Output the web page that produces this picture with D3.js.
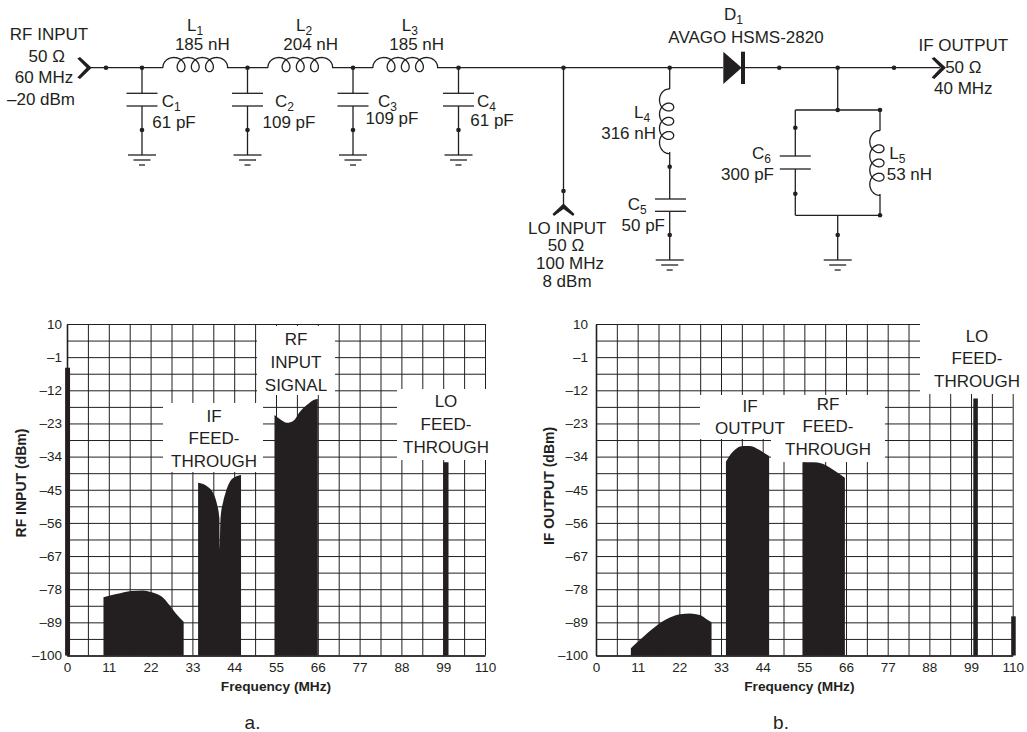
<!DOCTYPE html>
<html>
<head>
<meta charset="utf-8">
<script src="https://cdn.jsdelivr.net/npm/d3@7"></script>
<style>
    html, body { margin: 0; background: #fff; }
    svg { display: block; }
    text { font-family: "Liberation Sans", Arial, sans-serif; fill: #231f20; }
</style>
</head>
<body>
<div id="chart"></div>
<script>
// Axis values
const freqTicks = [0, 11, 22, 33, 44, 55, 66, 77, 88, 99, 110];
const dbTicks = [10, -1, -12, -23, -34, -45, -56, -67, -78, -89, -100];
const dbTickLabels = ["10", "–1", "–12", "–23", "–34", "–45", "–56", "–67", "–78", "–89", "–100"];

// Panel a spectrum as [MHz, dBm]
const rfBandLow = [[9.6, -80.7], [13, -79.6], [17, -78.6], [20, -78.4], [22, -78.9], [25, -80.5], [27, -83.3], [29, -86.6], [30.7, -88.8]];
const rfBandIf = [[34.5, -42.7], [35.8, -43.1], [37.1, -44.1], [38.5, -46.2], [39.5, -50], [40.1, -54.4], [40.2, -65], [40.4, -54.4], [41.1, -49], [41.8, -45.7], [42.9, -42.3], [44.2, -40.8], [45.8, -40.1]];
const rfBandRf = [[54.6, -20.2], [56.1, -21.6], [57.9, -22.8], [59.6, -22.1], [61.3, -19.1], [63.1, -16.9], [64.9, -15.2], [66, -14.9]];
const rfSpikeDc = [[-0.5, -4.5], [0.8, -4.5]];
const rfSpikeLo = [[99, -35.9], [100.4, -35.9]];

// Panel b spectrum
const ifBandLow = [[9.2, -97.6], [10.3, -96.3], [12.5, -93.8], [14.7, -91.4], [16.9, -89.2], [19.5, -87.4], [22.2, -86.3], [24.8, -86.1], [27.4, -86.6], [29.2, -88], [30.5, -89]];
const ifBandIf = [[34.3, -35.7], [35.4, -33.5], [37.1, -31.3], [38.9, -30.5], [40.6, -30.5], [42.4, -31.3], [44.2, -32.6], [45.7, -33.8]];
const ifBandRf = [[54.5, -35.9], [57.4, -35.9], [59.6, -36.3], [61.8, -37.7], [63.6, -39.2], [65.7, -41]];
const ifSpikeLo = [[99.6, -14.7], [100.8, -14.7]];
const ifSpikeEnd = [[109.6, -87], [110.8, -87]];

const svg = d3.select("#chart").append("svg").attr("width", 1027).attr("height", 732);
const ink = "#231f20";
const bigFont = 17;

function drawPlot(cfg) {
    const x = d3.scaleLinear().domain([0, 110]).range([cfg.left, cfg.right]);
    const y = d3.scaleLinear().domain([10, -100]).range([324, 655.5]);
    const g = svg.append("g");

    // gridlines every half tick, labels only on the full ticks
    const fineFreq = d3.range(0, 21).map(i => i * 5.5);
    const fineDb = d3.range(0, 21).map(i => 10 - i * 5.5);

    const xAxis = d3.axisBottom(x).tickValues(fineFreq).tickSize(0)
        .tickFormat(d => freqTicks.includes(d) ? d : "");
    const yAxis = d3.axisLeft(y).tickValues(fineDb).tickSize(0)
        .tickFormat(d => {
            const i = dbTicks.indexOf(d);
            return i >= 0 ? dbTickLabels[i] : "";
        });

    const ax = g.append("g").attr("transform", "translate(0,655.5)").call(xAxis);
    ax.selectAll("line").attr("y2", 0).attr("y1", y(10) - 655.5);
    ax.selectAll("text").attr("y", 7).attr("font-size", 13.5);
    const ay = g.append("g").attr("transform", `translate(${cfg.left},0)`).call(yAxis);
    ay.selectAll("line").attr("x2", cfg.right - cfg.left);
    ay.selectAll("text").attr("x", -cfg.tickPad).attr("font-size", 13.5);
    g.selectAll(".tick line").attr("stroke", ink).attr("stroke-width", 1);
    g.selectAll(".domain").attr("stroke", ink).attr("stroke-width", 1.6);
    g.selectAll(".tick text").style("fill", ink);

    // white label patches cut the grid
    g.selectAll(".patch").data(cfg.patches).enter().append("rect")
        .attr("x", d => d[0]).attr("y", d => d[1])
        .attr("width", d => d[2]).attr("height", d => d[3])
        .attr("fill", "#fff");

    const area = d3.area().x(d => x(d[0])).y0(y(-100)).y1(d => y(d[1])).curve(d3.curveMonotoneX);
    g.selectAll(".band").data(cfg.bands).enter().append("path")
        .attr("d", area).attr("fill", ink);

    cfg.notes.forEach(n => {
        n.lines.forEach((t, i) => {
            g.append("text").attr("x", n.x).attr("y", n.ys[i])
                .attr("text-anchor", "middle").attr("font-size", bigFont).text(t);
        });
    });

    g.append("text").attr("x", (cfg.left + cfg.right) / 2 + cfg.freqShift).attr("y", 691)
        .attr("text-anchor", "middle").attr("font-size", 13.7).attr("font-weight", "bold")
        .text("Frequency (MHz)");
    g.append("text").attr("transform", `translate(${cfg.titleX},${cfg.titleY}) rotate(-90)`)
        .attr("text-anchor", "middle").attr("font-size", 14).attr("font-weight", "bold")
        .text(cfg.title);
    g.append("text").attr("x", cfg.capX).attr("y", 728.7)
        .attr("text-anchor", "middle").attr("font-size", 19).text(cfg.cap);
}

drawPlot({
    left: 67, right: 485, tickPad: 5, freqShift: 0, title: "RF INPUT (dBm)", titleX: 26, titleY: 483, cap: "a.", capX: 252.5,
    bands: [rfBandLow, rfBandIf, rfBandRf, rfSpikeDc, rfSpikeLo],
    patches: [[257, 326, 78, 69], [163, 403, 100, 69], [397, 389, 90, 71]],
    notes: [
        { x: 296, lines: ["RF", "INPUT", "SIGNAL"], ys: [345, 368, 391] },
        { x: 214, lines: ["IF", "FEED-", "THROUGH"], ys: [422, 444, 467] },
        { x: 446, lines: ["LO", "FEED-", "THROUGH"], ys: [407, 430, 453] }
    ]
});

drawPlot({
    left: 596, right: 1012.7, tickPad: 8, freqShift: -5, title: "IF OUTPUT (dBm)", titleX: 554, titleY: 486, cap: "b.", capX: 781,
    bands: [ifBandLow, ifBandIf, ifBandRf, ifSpikeLo, ifSpikeEnd],
    patches: [[700, 395, 71, 44], [771, 395, 114, 67], [920, 320, 107, 74]],
    notes: [
        { x: 750, lines: ["IF", "OUTPUT"], ys: [412, 434] },
        { x: 828, lines: ["RF", "FEED-", "THROUGH"], ys: [410, 432, 455] },
        { x: 977, lines: ["LO", "FEED-", "THROUGH"], ys: [342, 364, 387] }
    ]
});

// Schematic ---------------------------------------------------------
const wireY = 67.7;
const sch = svg.append("g");

const wires = [
    [[88, wireY], [163, wireY]], [[227, wireY], [268, wireY]], [[332, wireY], [373, wireY]],
    [[437, wireY], [723, wireY]], [[745, wireY], [940, wireY]],
    [[563.5, wireY], [563.5, 205]],
    [[669.7, wireY], [669.7, 89]], [[669.7, 152], [669.7, 199]], [[669.7, 211.3], [669.7, 260]],
    [[837.7, wireY], [837.7, 110]], [[795.3, 110], [880, 110]],
    [[795.3, 110], [795.3, 156]], [[795.3, 169], [795.3, 215.3]], [[795.3, 215.3], [880, 215.3]],
    [[880, 110], [880, 130.7]], [[880, 194], [880, 215.3]], [[837.7, 215.3], [837.7, 260]]
];
const shuntCaps = [142, 247.5, 353, 458.5];
const dots = [
    [106, wireY], [563.5, wireY], [669.7, wireY], [779.3, wireY], [837.7, wireY], [894, wireY],
    [563.5, 191], [669.7, 166.7], [669.7, 235], [837.7, 110], [880, 110], [795.3, 127.7],
    [795.3, 193.7], [880, 215.3], [837.7, 235]
];
const horizCoils = [163, 268, 373];
const vertCoils = [[669.7, 89], [880, 130.7]];
const grounds = [[669.7, 260], [837.7, 260]];
const capPlates = [[670.5, 199, 211.3], [795.3, 156, 169]];

const lineGen = d3.line();
const drawWire = pts => sch.append("path").attr("d", lineGen(pts))
    .attr("fill", "none").attr("stroke", ink).attr("stroke-width", 1.3);
const drawDot = p => sch.append("circle").attr("cx", p[0]).attr("cy", p[1]).attr("r", 2.3).attr("fill", ink);

// coil with four humps and three loops, u runs along the wire, v across it
function coilPoints(map) {
    const c = 2.26, r = 7.1, R = 7.1;
    const pts = [];
    const t0 = -2.02, t1 = 6 * Math.PI + 2.02;
    const start = c * t0 + r * Math.sin(t0);
    for (let i = 0; i <= 160; i++) {
        const t = t0 + (t1 - t0) * i / 160;
        pts.push(map(c * t + r * Math.sin(t) - start, -3.1 - R * Math.cos(t)));
    }
    return pts;
}
function drawGround(x, y) {
    [[14, 0], [8.5, 5], [3, 10]].forEach(s => {
        drawWire([[x - s[0], y + s[1]], [x + s[0], y + s[1]]]);
    });
}
function drawPlates(x, y1, y2) {
    drawWire([[x - 15.5, y1], [x + 15.5, y1]]);
    drawWire([[x - 15.5, y2], [x + 15.5, y2]]);
}

wires.forEach(drawWire);
shuntCaps.forEach(x => {
    drawWire([[x, wireY], [x, 93.3]]);
    drawWire([[x, 106], [x, 155]]);
    drawPlates(x, 93.3, 106);
    drawGround(x, 155);
    drawDot([x, wireY]);
    drawDot([x, 130]);
});
capPlates.forEach(c => drawPlates(c[0], c[1], c[2]));
grounds.forEach(g => drawGround(g[0], g[1]));
dots.forEach(drawDot);
horizCoils.forEach(x0 => drawWire(coilPoints((u, v) => [x0 + u, wireY + v])));
vertCoils.forEach(c => drawWire(coilPoints((u, v) => [c[0] + v, c[1] + u])));

// connector chevrons and the diode
const chevrons = [
    [[77.3, 58.5], [80, 57], [91.7, wireY], [80, 79], [77.3, 77.5], [86.5, wireY]],
    [[931.6, 58.5], [934.3, 57], [946, wireY], [934.3, 79], [931.6, 77.5], [940.8, wireY]],
    [[552.5, 214], [563.5, 203.5], [574.5, 214], [573, 216], [563.5, 209], [554, 216]]
];
chevrons.forEach(p => sch.append("path").attr("d", lineGen(p) + "Z").attr("fill", ink));
sch.append("path").attr("d", lineGen([[723.3, 51.7], [741.7, wireY], [723.3, 84]]) + "Z").attr("fill", ink);
sch.append("rect").attr("x", 741).attr("y", 51.7).attr("width", 4).attr("height", 32.3).attr("fill", ink);

// [text, subscript, x, y, anchor]
const schLabels = [
    ["RF INPUT", "", 49, 40, "middle"], ["50 Ω", "", 46.7, 61.7, "middle"],
    ["60 MHz", "", 44, 83.3, "middle"], ["–20 dBm", "", 41, 105, "middle"],
    ["L", "1", 187, 31, "start"], ["185 nH", "", 202.3, 50, "middle"],
    ["L", "2", 296, 31, "start"], ["204 nH", "", 310.7, 50, "middle"],
    ["L", "3", 401.7, 31, "start"], ["185 nH", "", 416.7, 50, "middle"],
    ["C", "1", 161.7, 107.3, "start"], ["61 pF", "", 174, 128.3, "middle"],
    ["C", "2", 275, 107.3, "start"], ["109 pF", "", 289, 128.3, "middle"],
    ["C", "3", 378, 107.3, "start"], ["109 pF", "", 392, 124, "middle"],
    ["C", "4", 477, 107.3, "start"], ["61 pF", "", 492, 126, "middle"],
    ["D", "1", 724, 20, "start"], ["AVAGO HSMS-2820", "", 746, 42.7, "middle"],
    ["IF OUTPUT", "", 963.3, 50.7, "middle"], ["50 Ω", "", 963.3, 73.3, "middle"], ["40 MHz", "", 963.3, 94, "middle"],
    ["L", "4", 634, 118.3, "start"], ["316 nH", "", 656, 138.7, "end"],
    ["C", "5", 627.7, 210, "start"], ["50 pF", "", 665, 231, "end"],
    ["C", "6", 752, 159, "start"], ["300 pF", "", 774, 180, "end"],
    ["L", "5", 889.3, 159, "start"], ["53 nH", "", 886.7, 180, "start"],
    ["LO INPUT", "", 567.3, 234, "middle"], ["50 Ω", "", 566, 251, "middle"],
    ["100 MHz", "", 570, 269, "middle"], ["8 dBm", "", 567, 286.7, "middle"]
];
schLabels.forEach(l => {
    const t = sch.append("text").attr("x", l[2]).attr("y", l[3])
        .attr("text-anchor", l[4]).attr("font-size", bigFont).text(l[0]);
    if (l[1]) t.append("tspan").attr("dy", 4).attr("font-size", 12).text(l[1]);
});
</script>
</body>
</html>
